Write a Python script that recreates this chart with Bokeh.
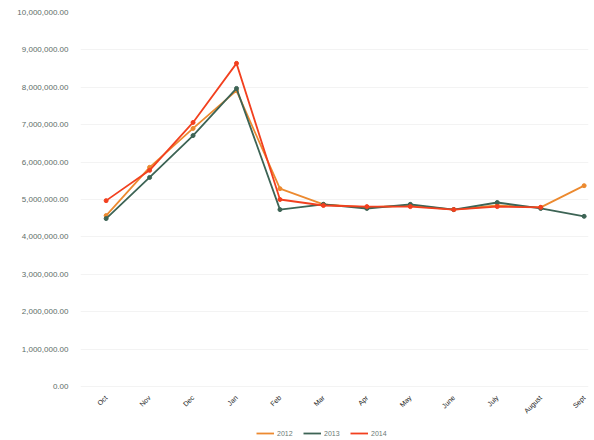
from bokeh.plotting import figure
from bokeh.models import FixedTicker, NumeralTickFormatter, Legend, LegendItem, Range1d
from bokeh.embed import file_html
from bokeh.resources import INLINE
import math

months = ["Oct", "Nov", "Dec", "Jan", "Feb", "Mar", "Apr", "May", "June", "July", "August", "Sept"]
s2012 = [4.57e6, 5.86e6, 6.90e6, 7.91e6, 5.29e6, 4.87e6, 4.79e6, 4.84e6, 4.73e6, 4.84e6, 4.79e6, 5.37e6]
s2013 = [4.49e6, 5.59e6, 6.71e6, 7.97e6, 4.73e6, 4.87e6, 4.76e6, 4.87e6, 4.73e6, 4.92e6, 4.76e6, 4.55e6]
s2014 = [4.97e6, 5.78e6, 7.06e6, 8.64e6, 5.00e6, 4.84e6, 4.81e6, 4.81e6, 4.73e6, 4.81e6, 4.79e6]
names = ["2012", "2013", "2014"]
colors = ["#ec8a30", "#3d6455", "#f2401f"]
yticks = [0, 1e6, 2e6, 3e6, 4e6, 5e6, 6e6, 7e6, 8e6, 9e6, 10e6]

p = figure(frame_width=508, frame_height=426, output_backend="svg", toolbar_location=None,
           x_range=Range1d(-0.59, 11.1), y_range=Range1d(-1.39e6, 10e6),
           min_border_left=80, min_border_right=2, min_border_top=12, min_border_bottom=2)
p.outline_line_color = None
p.background_fill_color = "white"

items = []
for name, data, col in zip(names, [s2012, s2013, s2014], colors):
    xs = list(range(len(data)))
    r1 = p.line(xs, data, line_color=col, line_width=1.8)
    r2 = p.scatter(xs, data, size=4, fill_color=col, line_color=col,
                   marker="circle")
    items.append(LegendItem(label=name, renderers=[r1]))

p.xaxis.fixed_location = 0
p.xaxis.ticker = FixedTicker(ticks=list(range(12)))
p.xaxis.major_label_overrides = {i: m for i, m in enumerate(months)}
p.xaxis.major_label_orientation = math.pi / 4
p.xaxis.major_label_text_font_size = "7px"
p.xaxis.major_label_text_color = "#222222"
p.xaxis.major_label_text_font = "Liberation Sans"
p.xaxis.major_label_standoff = 4
p.xaxis.axis_line_color = None
p.xaxis.major_tick_line_color = None
p.xaxis.minor_tick_line_color = None

p.yaxis.ticker = FixedTicker(ticks=yticks)
p.yaxis.formatter = NumeralTickFormatter(format="0,0.00")
p.yaxis.major_label_text_font_size = "8px"
p.yaxis.major_label_text_color = "#5d6e68"
p.yaxis.major_label_text_font = "Liberation Sans"
p.yaxis.axis_line_color = None
p.yaxis.major_tick_line_color = None
p.yaxis.minor_tick_line_color = None
p.yaxis.major_label_standoff = 6

p.xgrid.grid_line_color = None
p.ygrid.grid_line_color = "#f3f3f3"

legend = Legend(items=items, orientation="horizontal", location=(176, 1),
                label_text_font_size="7px", label_text_color="#6b7a75",
                label_text_font="Liberation Sans",
                glyph_width=18, glyph_height=8, spacing=6, padding=1, margin=0,
                label_height=8, label_standoff=3,
                border_line_color=None, background_fill_alpha=0)
p.add_layout(legend, "center")

open("out.html", "w").write(file_html(p, INLINE))
